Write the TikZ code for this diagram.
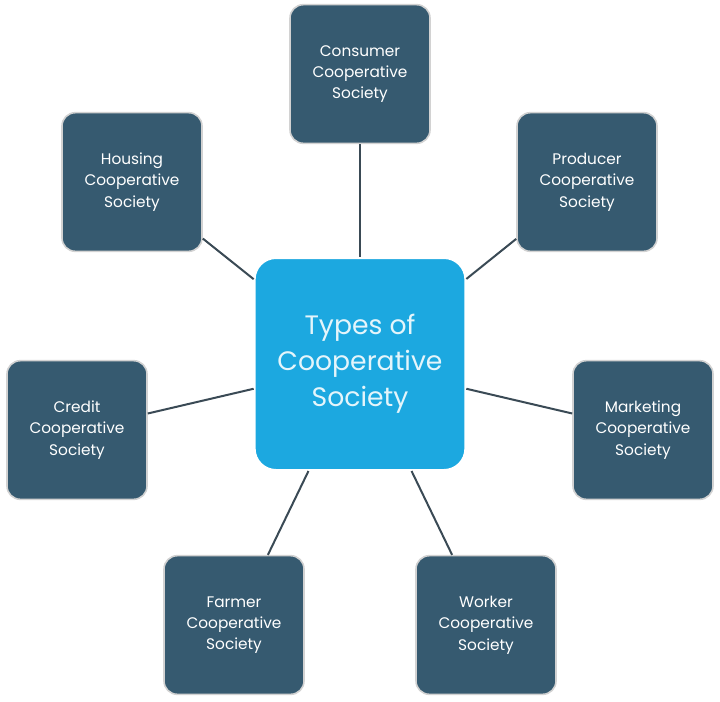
\documentclass[tikz,border=0pt]{standalone}
\usepackage{fontspec}
\setmainfont{Poppins}
\definecolor{outer}{HTML}{365A70}
\definecolor{inner}{HTML}{1CA8E0}
\definecolor{edgec}{HTML}{3A4A55}
\begin{document}
\begin{tikzpicture}[x=0.75pt,y=-0.75pt]
\useasboundingbox (0,0) rectangle (720,701);
\tikzset{
 obox/.style={draw=gray!35,line width=1.2pt,fill=outer,rounded corners=10pt,minimum width=105pt,minimum height=104pt,text=white,align=center,font=\fontsize{11.5}{16}\selectfont,inner sep=0pt},
 cbox/.style={draw=white,line width=1.5pt,fill=inner,rounded corners=16pt,minimum width=158pt,minimum height=159pt,text=white!88!inner,align=center,font=\fontsize{20}{27}\selectfont,inner sep=0pt},
 link/.style={draw=edgec,line width=1.5pt}
}
\node[cbox] (c) at (360,364) {Types of\\Cooperative\\Society};
\node[obox] (con) at (360,74) {Consumer\\Cooperative\\Society};
\node[obox] (pro) at (587,182) {Producer\\Cooperative\\Society};
\node[obox] (hou) at (132,182) {Housing\\Cooperative\\Society};
\node[obox] (cre) at (77,430) {Credit\\Cooperative\\Society};
\node[obox] (mar) at (643,430) {Marketing\\Cooperative\\Society};
\node[obox] (far) at (234,625) {Farmer\\Cooperative\\Society};
\node[obox] (wor) at (486,625) {Worker\\Cooperative\\Society};
\begin{scope}[on background layer/.style={}]
\draw[link] (con.south) -- (c.north);
\draw[link] (pro.south west) ++(0,-5) coordinate (p1);
\end{scope}
\draw[link] (hou) -- (c);
\draw[link] (pro) -- (c);
\draw[link] (cre) -- (c);
\draw[link] (mar) -- (c);
\draw[link] (far) -- (c);
\draw[link] (wor) -- (c);
\end{tikzpicture}
\end{document}
